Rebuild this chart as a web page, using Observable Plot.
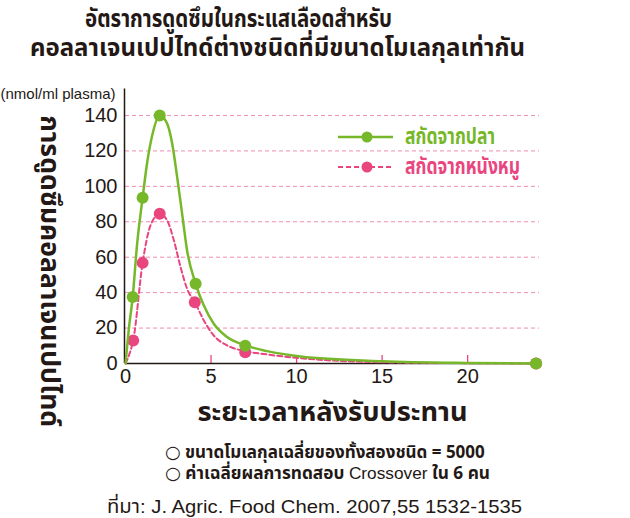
<!DOCTYPE html>
<html><head><meta charset="utf-8">
<script src="https://cdn.jsdelivr.net/npm/d3@7"></script>
<script src="https://cdn.jsdelivr.net/npm/@observablehq/plot@0.6"></script>
<style>
body{margin:0;background:#fff;font-family:"Noto Sans Thai","Noto Sans","Liberation Sans",sans-serif;color:#231815;}
#wrap{position:relative;width:630px;height:518px;overflow:hidden;}
.t{position:absolute;white-space:nowrap;line-height:1;transform-origin:0 50%;}
.circ{font-family:"DejaVu Sans",sans-serif;font-weight:normal;font-size:1.05em;line-height:1;}
</style></head><body>
<div id="wrap">
<div class="t fit" data-x0="85" data-x1="392" data-cy="19" style="font-size:25px;font-weight:bold" id="title1"></div>
<div class="t fit" data-x0="30" data-x1="525" data-cy="48" style="font-size:25px;font-weight:bold" id="title2"></div>
<div id="chart" style="position:absolute;left:0;top:70px"></div>
<div class="t fit" data-x0="405" data-x1="495" data-cy="137" style="font-size:23px;font-weight:bold;color:#76b82a" id="leg1"></div>
<div class="t fit" data-x0="405" data-x1="520" data-cy="167" style="font-size:23px;font-weight:bold;color:#e9467f" id="leg2"></div>
<div class="t fit" data-x0="165" data-x1="487" data-cy="452" style="font-size:17px;font-weight:bold" id="cap1"></div>
<div class="t fit" data-x0="165" data-x1="490" data-cy="473" style="font-size:17px;font-weight:bold" id="cap2"></div>
<div class="t fit" data-x0="107" data-x1="522" data-cy="506" style="font-size:19px;font-family:'Liberation Sans','Noto Sans Thai',sans-serif" id="source"></div>
</div>
<script>
// ---- text ----
const titleLines = ["อัตราการดูดซึมในกระแสเลือดสำหรับ", "คอลลาเจนเปปไทด์ต่างชนิดที่มีขนาดโมเลกุลเท่ากัน"];
const yUnit = "(nmol/ml plasma)";
const yLabel = "การดูดซึมคอลลาเจนเปปไทด์";
const xLabel = "ระยะเวลาหลังรับประทาน";
const seriesNames = ["สกัดจากปลา", "สกัดจากหนังหมู"];
const captionLines = ["ขนาดโมเลกุลเฉลี่ยของทั้งสองชนิด = 5000", "ค่าเฉลี่ยผลการทดสอบ Crossover ใน 6 คน"];
const bullet = "○";
const sourceLine = "ที่มา: J. Agric. Food Chem. 2007,55 1532-1535";

// ---- ticks ----
const xTicks = [0, 5, 10, 15, 20];
const yTicks = [0, 20, 40, 60, 80, 100, 120, 140];

// ---- measured points (hours, nmol/ml) ----
const fishTimes = [0.42, 1, 2, 4.1, 7, 24];
const fishValues = [37.5, 93.5, 140, 45, 10, 0];
const porkTimes = [0.45, 1, 2, 4.05, 7, 24];
const porkValues = [13, 56.8, 84.5, 34.6, 6.4, 0];

// ---- fitted curves ----
const fishCurveT = [0, 0.2, 0.42, 0.68, 1, 1.27, 1.56, 2, 2.44, 2.73, 3.02, 3.31, 3.6, 4.1, 4.58, 5.16, 5.94, 7, 8.28, 10.23, 15, 20, 24];
const fishCurveV = [0, 20, 37.5, 67.5, 93.5, 113.6, 128.7, 140, 135.3, 124, 105.2, 84.5, 63.8, 45, 32.7, 22.4, 14.9, 10.2, 7.0, 4.0, 1.3, 0.3, 0];
const porkCurveT = [0, 0.25, 0.45, 1, 1.46, 2, 2.44, 2.83, 3.22, 3.6, 4.05, 4.58, 5.16, 5.94, 7, 8.28, 10.23, 15, 20, 24];
const porkCurveV = [0, 6, 13, 56.8, 77.9, 84.5, 80.7, 69.4, 54.4, 42.2, 34.6, 24.3, 15.8, 10.2, 7.0, 5.1, 3.0, 0.7, 0.2, 0];

const green = "#76b82a", pink = "#e9467f", grid = "#f08db3", ink = "#231815";
const thai = "'Noto Sans Thai','Noto Sans','Liberation Sans',sans-serif";
const latin = "'Liberation Sans',Arial,sans-serif";

const fishPts = fishTimes.map((t, i) => ({t, v: fishValues[i]}));
const porkPts = porkTimes.map((t, i) => ({t, v: porkValues[i]}));
const fishCurve = fishCurveT.map((t, i) => ({t, v: fishCurveV[i]}));
const porkCurve = porkCurveT.map((t, i) => ({t, v: porkCurveV[i]}));

const chart = Plot.plot({
  width: 630, height: 360,
  marginTop: 18.4, marginBottom: 67, marginLeft: 125, marginRight: 91,
  x: {domain: [0, 24.2]},
  y: {domain: [0, 155]},
  style: {fontFamily: latin, fontSize: "20px", color: ink, background: "transparent", overflow: "visible"},
  marks: [
    Plot.gridY(yTicks.slice(1), {stroke: grid, strokeOpacity: 1, strokeDasharray: "4,3", strokeWidth: 1}),
    Plot.axisY({ticks: yTicks, tickSize: 0, tickPadding: 8, fontSize: 20, label: null}),
    Plot.axisX({ticks: xTicks, tickSize: 0, tickPadding: 5, fontSize: 20, label: null}),
    Plot.axisX({ticks: xTicks.slice(1), tickSize: 8, text: null, dy: -8, stroke: pink, strokeWidth: 1.3, label: null}),
    Plot.ruleY([0], {stroke: ink, strokeWidth: 1.5}),
    Plot.ruleX([0], {stroke: ink, strokeWidth: 1.5, dx: -1}),
    Plot.line(porkCurve, {x: "t", y: "v", curve: "monotone-x", stroke: pink, strokeWidth: 2, strokeDasharray: "5,3"}),
    Plot.dot(porkPts, {x: "t", y: "v", r: 6, fill: pink}),
    Plot.line(fishCurve, {x: "t", y: "v", curve: "monotone-x", stroke: green, strokeWidth: 2.5}),
    Plot.dot(fishPts, {x: "t", y: "v", r: 6, fill: green}),
    Plot.text([yUnit], {frameAnchor: "top-left", textAnchor: "start", lineAnchor: "middle", dx: -125, dy: 5, fontSize: 15}),
    Plot.text([yLabel], {frameAnchor: "left", textAnchor: "middle", lineAnchor: "middle", rotate: 90, dx: -76, dy: 45, fontSize: 26, fontWeight: "bold", fontFamily: thai}),
    Plot.text([xLabel], {frameAnchor: "bottom", lineAnchor: "middle", dy: 49, fontSize: 27, fontWeight: "bold", fontFamily: thai})
  ]
});
document.getElementById("chart").appendChild(chart);

// fit the two axis titles to the reference lengths
for (const t of chart.querySelectorAll("text")) {
  if (t.textContent === xLabel) { t.setAttribute("textLength", 270); t.setAttribute("lengthAdjust", "spacingAndGlyphs"); }
  if (t.textContent === yLabel) { t.setAttribute("textLength", 312); t.setAttribute("lengthAdjust", "spacingAndGlyphs"); }
}

// legend line samples (inline svg)
const wrap = document.getElementById("wrap");
const legSvg = document.createElementNS("http://www.w3.org/2000/svg", "svg");
legSvg.setAttribute("width", 70); legSvg.setAttribute("height", 50);
legSvg.style.cssText = "position:absolute;left:334px;top:125px;overflow:visible";
legSvg.innerHTML =
  `<line x1="4" x2="59" y1="12" y2="12" stroke="${green}" stroke-width="2.5"/><circle cx="33" cy="12" r="5.5" fill="${green}"/>` +
  `<line x1="4" x2="59" y1="42" y2="42" stroke="${pink}" stroke-width="2" stroke-dasharray="5,3"/><circle cx="33" cy="42" r="5.5" fill="${pink}"/>`;
wrap.appendChild(legSvg);

document.getElementById("title1").textContent = titleLines[0];
document.getElementById("title2").textContent = titleLines[1];
document.getElementById("leg1").textContent = seriesNames[0];
document.getElementById("leg2").textContent = seriesNames[1];
document.getElementById("cap1").innerHTML = `<span class="circ">${bullet}</span> ${captionLines[0]}`;
document.getElementById("cap2").innerHTML = `<span class="circ">${bullet}</span> ${captionLines[1].replace("Crossover", `<span style="font-family:${latin};font-weight:normal">Crossover</span>`)}`;
document.getElementById("source").textContent = sourceLine;

for (const el of document.querySelectorAll(".fit")) {
  const x0 = +el.dataset.x0, x1 = +el.dataset.x1, cy = +el.dataset.cy;
  const r = el.getBoundingClientRect();
  const s = (x1 - x0) / r.width;
  el.style.left = x0 + "px";
  el.style.top = (cy - r.height / 2) + "px";
  if (Math.abs(s - 1) > 0.01) el.style.transform = `scaleX(${s})`;
}
</script>
</body></html>
